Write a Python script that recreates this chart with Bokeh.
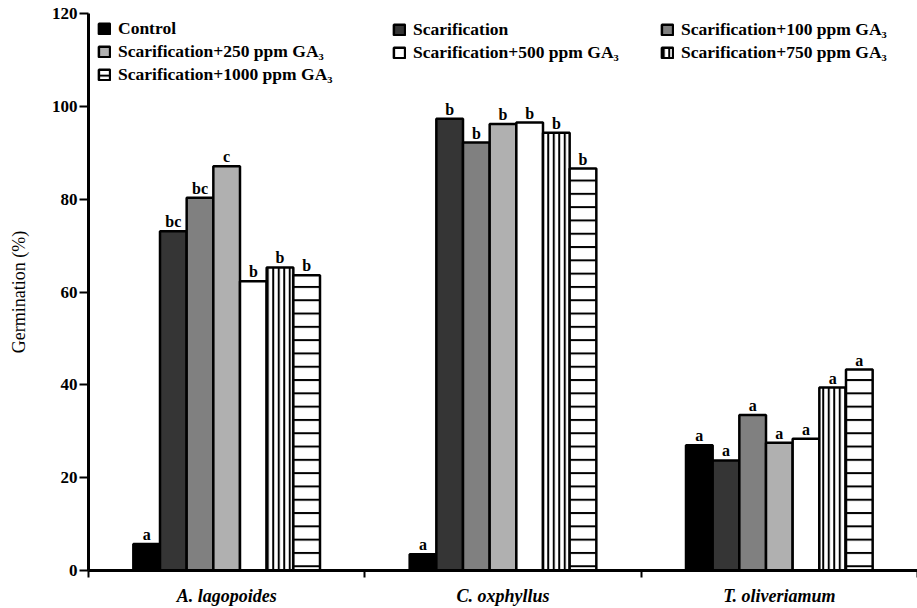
import numpy as np
from bokeh.plotting import figure
from bokeh.models import (ColumnDataSource, Range1d, FixedTicker, Legend, LegendItem)
from bokeh.core.properties import value
from bokeh.embed import file_html
from bokeh.resources import INLINE

# ---- data ----
species = ["A. lagopoides", "C. oxphyllus", "T. oliveriamum"]
treatments = ["Control", "Scarification", "Scarification+100 ppm GA\u2083",
              "Scarification+250 ppm GA\u2083", "Scarification+500 ppm GA\u2083",
              "Scarification+750 ppm GA\u2083", "Scarification+1000 ppm GA\u2083"]
control = [5.7, 3.5, 27.0]
scarification = [73.1, 97.3, 23.7]
ga100 = [80.3, 92.2, 33.5]
ga250 = [87.1, 96.2, 27.5]
ga500 = [62.3, 96.5, 28.4]
ga750 = [65.3, 94.3, 39.4]
ga1000 = [63.6, 86.6, 43.3]
letters_control = ["a", "a", "a"]
letters_scar = ["bc", "b", "a"]
letters_100 = ["bc", "b", "a"]
letters_250 = ["c", "b", "a"]
letters_500 = ["b", "b", "a"]
letters_750 = ["b", "b", "a"]
letters_1000 = ["b", "b", "a"]
yticks = [0, 20, 40, 60, 80, 100, 120]

series = [control, scarification, ga100, ga250, ga500, ga750, ga1000]
letters = [letters_control, letters_scar, letters_100, letters_250,
           letters_500, letters_750, letters_1000]

# ---- styles ----
FONT = "Liberation Serif"
W, H = 917, 608
TOP, BOTTOM, LEFT = 13, 38, 88
fills = ["#000000", "#353535", "#808080", "#b0b0b0", "#ffffff", "#ffffff", "#ffffff"]
hatches = [None, None, None, None, None, "vertical_line", "horizontal_line"]
hatch_scales = [12, 12, 12, 12, 12, 5.5, 13.3]
bar_w = 0.0965

p = figure(width=W, height=H, output_backend="svg", toolbar_location=None,
           x_range=Range1d(0, 3), y_range=Range1d(0, 120),
           min_border_left=LEFT, min_border_right=0, min_border_top=TOP,
           min_border_bottom=BOTTOM)
p.outline_line_color = None
p.xgrid.visible = False
p.ygrid.visible = False

renderers = []
centers = np.arange(len(species)) + 0.5
for i, (vals, lets) in enumerate(zip(series, letters)):
    src = ColumnDataSource(dict(x=centers + (i - 3) * bar_w, top=vals, letter=lets))
    kw = dict(x="x", top="top", width=bar_w, bottom=0, source=src,
              fill_color=fills[i], line_color="black", line_width=2.5)
    if hatches[i]:
        kw.update(hatch_pattern=hatches[i], hatch_color="black",
                  hatch_weight=2, hatch_scale=hatch_scales[i])
    r = p.vbar(**kw)
    renderers.append(r)
    p.text(x="x", y="top", text="letter", source=src, text_align="center",
           text_baseline="bottom", y_offset=-1, text_font=value(FONT),
           text_font_style="bold", text_font_size="16px", text_color="black")

# ---- axes ----
xa = p.xaxis[0]
xa.ticker = FixedTicker(ticks=list(centers), minor_ticks=[0, 1, 2, 3])
xa.major_label_overrides = {float(c): s for c, s in zip(centers, species)}
xa.major_tick_out = 0
xa.major_tick_in = 0
xa.minor_tick_out = 7
xa.minor_tick_in = 0
xa.minor_tick_line_width = 2
xa.axis_line_width = 3
xa.major_label_standoff = 8
xa.major_label_text_font = FONT
xa.major_label_text_font_style = "bold italic"
xa.major_label_text_font_size = "18px"
xa.major_label_text_color = "black"

ya = p.yaxis[0]
ya.ticker = FixedTicker(ticks=yticks, minor_ticks=[])
ya.major_tick_out = 9
ya.major_tick_in = 0
ya.major_tick_line_width = 2
ya.axis_line_width = 3
ya.major_label_standoff = 2
ya.major_label_text_font = FONT
ya.major_label_text_font_style = "bold"
ya.major_label_text_font_size = "17px"
ya.major_label_text_color = "black"
ya.axis_label = "Germination (%)"
ya.axis_label_text_font = FONT
ya.axis_label_text_font_style = "normal"
ya.axis_label_text_font_size = "18px"
ya.axis_label_text_color = "black"
ya.axis_label_standoff = 20

# ---- legends (three columns) ----
frame_h = H - TOP - BOTTOM
row_h, gap = 20, 2
cols = [[0, 3, 6], [1, 4], [2, 5]]
xs = [9, 304, 572]
for col, lx in zip(cols, xs):
    items = [LegendItem(label=treatments[k], renderers=[renderers[k]]) for k in col]
    lg_h = len(col) * row_h + (len(col) - 1) * gap
    lg = Legend(items=items, location=(lx, frame_h - 8 - lg_h), orientation="vertical",
                padding=0, margin=0, spacing=gap, glyph_width=14, glyph_height=13,
                label_standoff=7, label_height=row_h,
                label_text_font=FONT, label_text_font_style="bold",
                label_text_font_size="17.5px", label_text_color="black",
                border_line_alpha=0, background_fill_alpha=0)
    p.add_layout(lg)

open("out.html", "w").write(file_html(p, INLINE))
